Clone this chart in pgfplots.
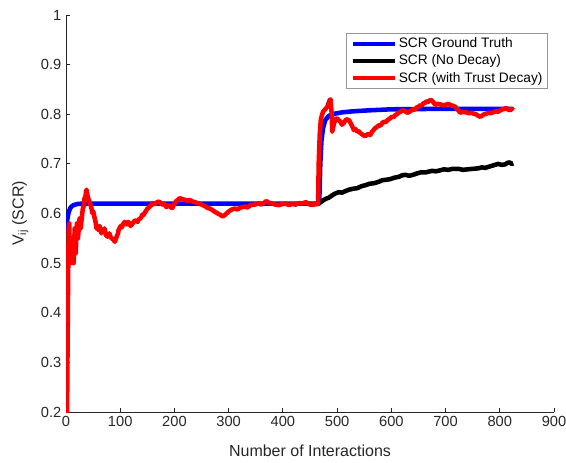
\documentclass[border=0pt]{standalone}
\usepackage{fontspec}
\setmainfont{Liberation Sans}
\usepackage{pgfplots}
\pgfplotsset{compat=1.18}
\definecolor{axgray}{RGB}{38,38,38}
\definecolor{legframe}{RGB}{150,150,150}

\begin{document}
\begin{tikzpicture}
\begin{axis}[
  scale only axis,
  width=366pt, height=297.75pt,
  xmin=0, xmax=900, ymin=0.2, ymax=1,
  axis lines*=left,
  axis line style={axgray, line width=0.6pt, -},
  xtick={0,100,200,300,400,500,600,700,800,900},
  ytick={0.2,0.3,0.4,0.5,0.6,0.7,0.8,0.9,1},
  tick align=inside,
  major tick length=3pt,
  tick style={axgray, line width=0.6pt},
  /pgf/number format/assume math mode=true,
  ticklabel style={font=\fontsize{11}{13}\selectfont, text=axgray},
  xlabel={Number of Interactions},
  ylabel={V\textsubscript{ij} (SCR)},
  label style={font=\fontsize{12}{14}\selectfont, text=axgray},
  xlabel style={at={(axis description cs:0.5,-0.098)}, anchor=center},
  ylabel style={at={(axis description cs:-0.094,0.5)}, anchor=center},
  legend cell align=left,
  legend style={
    at={(rel axis cs:0.988,0.955)}, anchor=north east,
    draw=legframe, line width=0.5pt,
    font=\fontsize{10.3}{12}\selectfont,
    inner xsep=3pt, inner ysep=1.5pt,
    row sep=0.6pt,
    nodes={inner sep=1pt, text height=8pt, text depth=2.5pt},
  },
  legend image code/.code={\draw[#1, line width=3pt] (0pt,0pt) -- (32pt,0pt);},
  every axis plot/.append style={line width=3.4pt, line join=round},
]

% ground truth
\addplot[blue] coordinates {
(0,0.563) (2,0.585) (4,0.598) (6,0.606) (8,0.611) (10,0.614) (14,0.617)
(20,0.619) (30,0.620) (60,0.620) (200,0.620) (467,0.620)
(468,0.66) (469,0.70) (471,0.745) (474,0.772) (478,0.788) (485,0.797)
(495,0.801) (510,0.804) (530,0.806) (560,0.808) (600,0.810) (700,0.811) (825,0.811)
};
\addlegendentry{SCR Ground Truth}

% estimate without decay
\addplot[black] coordinates {
(440,0.621) (455,0.618) (465,0.620) (470,0.623) (475,0.627) (480,0.630)
(485,0.632) (490,0.636) (496,0.640) (503,0.643) (509,0.642) (515,0.645)
(522,0.648) (530,0.650) (537,0.651) (545,0.655) (552,0.657) (560,0.660)
(568,0.661) (577,0.664) (583,0.667) (590,0.668) (597,0.669) (605,0.672)
(614,0.674) (620,0.677) (626,0.678) (633,0.676) (640,0.678) (648,0.681)
(655,0.683) (664,0.683) (675,0.686) (682,0.685) (690,0.687) (697,0.689)
(705,0.688) (713,0.690) (724,0.690) (732,0.688) (740,0.689) (750,0.690)
(760,0.691) (767,0.693) (773,0.692) (779,0.694) (785,0.696) (791,0.698)
(797,0.700) (803,0.698) (810,0.699) (814,0.702) (818,0.703) (822,0.700)
(825,0.701)
};
\addlegendentry{SCR (No Decay)}

% estimate with trust decay
\addplot[red] coordinates {
(0,0.25) (1,0.24) (2,0.20) (3,0.35) (4,0.48) (5,0.57) (6,0.58) (7,0.52)
(8,0.50) (9,0.53) (10,0.55) (11,0.50) (12,0.52) (13,0.54) (14,0.50)
(15,0.53) (16,0.57) (17,0.55) (18,0.52) (19,0.55) (20,0.58) (21,0.56)
(22,0.55) (24,0.575) (25,0.59) (27,0.57) (28,0.58) (30,0.60) (31,0.61)
(33,0.615) (34,0.63) (36,0.635) (37,0.645) (38,0.648) (39,0.64) (41,0.63)
(43,0.625) (44,0.62) (46,0.615) (47,0.61) (49,0.60) (50,0.605) (52,0.595)
(53,0.59) (55,0.58) (56,0.57) (58,0.575) (59,0.567) (61,0.572) (62,0.575)
(64,0.565) (65,0.56) (67,0.568) (68,0.563) (70,0.566) (71,0.57) (73,0.56)
(74,0.555) (76,0.558) (77,0.553) (79,0.556) (80,0.56) (82,0.553) (84,0.55)
(87,0.548) (89,0.545) (90,0.543) (92,0.549) (94,0.555) (96,0.56)
(97,0.567) (99,0.571) (101,0.575) (103,0.572) (105,0.578) (108,0.583)
(110,0.58) (112,0.578) (114,0.583) (116,0.582) (119,0.575) (121,0.577)
(124,0.582) (126,0.585) (129,0.586) (132,0.583) (134,0.588) (137,0.59)
(139,0.593) (141,0.598) (143,0.597) (145,0.601) (148,0.606) (150,0.61)
(153,0.612) (155,0.615) (158,0.617) (160,0.621) (163,0.619) (166,0.62)
(169,0.624) (173,0.623) (175,0.620) (178,0.618) (181,0.620) (185,0.613)
(187,0.615) (190,0.617) (193,0.613) (196,0.611) (199,0.618) (203,0.625)
(206,0.627) (210,0.631) (214,0.629) (218,0.628) (223,0.626) (228,0.627)
(234,0.624) (240,0.622) (246,0.620) (252,0.617) (256,0.615) (260,0.612)
(265,0.610) (270,0.607) (275,0.603) (280,0.600) (285,0.597) (289,0.594)
(293,0.597) (296,0.600) (300,0.604) (304,0.607) (308,0.609) (312,0.61)
(316,0.608) (320,0.611) (325,0.613) (330,0.614) (335,0.612) (340,0.617)
(348,0.618) (356,0.621) (359,0.618) (362,0.619) (366,0.622) (369,0.625)
(374,0.622) (380,0.620) (386,0.618) (393,0.617) (399,0.619) (405,0.62)
(411,0.617) (417,0.619) (424,0.618) (430,0.621) (436,0.620) (442,0.623)
(448,0.619) (454,0.617) (457,0.619) (460,0.620) (463,0.618) (465,0.620)
(466,0.70) (468,0.76) (470,0.79) (474,0.805) (478,0.81) (482,0.815)
(486,0.828) (488,0.830) (490,0.80) (491,0.765) (494,0.78) (497,0.79)
(500,0.792) (503,0.788) (506,0.785) (509,0.779) (512,0.782) (515,0.787)
(517,0.79) (522,0.788) (525,0.782) (527,0.778) (531,0.768) (534,0.770)
(537,0.765) (540,0.766) (543,0.762) (548,0.758) (552,0.756) (555,0.759)
(558,0.760) (561,0.758) (564,0.764) (567,0.768) (570,0.772) (574,0.775)
(577,0.778) (580,0.777) (583,0.782) (586,0.785) (589,0.784) (592,0.787)
(595,0.79) (598,0.792) (601,0.795) (604,0.794) (607,0.798) (610,0.800)
(613,0.803) (617,0.805) (620,0.808) (623,0.807) (626,0.806) (629,0.803)
(632,0.804) (636,0.807) (640,0.810) (643,0.809) (647,0.814) (650,0.815)
(653,0.818) (656,0.817) (659,0.822) (662,0.823) (665,0.826) (668,0.825)
(672,0.829) (674,0.828) (677,0.825) (679,0.822) (681,0.819) (685,0.821)
(690,0.820) (695,0.818) (700,0.819) (705,0.821) (710,0.818) (714,0.817)
(718,0.815) (720,0.812) (722,0.810) (725,0.806) (727,0.803) (732,0.805)
(738,0.804) (743,0.802) (748,0.803) (752,0.801) (756,0.800) (760,0.797)
(764,0.795) (767,0.797) (771,0.800) (775,0.801) (779,0.803) (783,0.802)
(788,0.804) (792,0.806) (797,0.805) (801,0.808) (805,0.810) (809,0.811)
(812,0.813) (815,0.810) (818,0.808) (822,0.811) (825,0.808)
};
\addlegendentry{SCR (with Trust Decay)}

\end{axis}
\pgfresetboundingbox
\path (-49.5pt,-37.5pt) rectangle (375pt,309pt);
\end{tikzpicture}
\end{document}
